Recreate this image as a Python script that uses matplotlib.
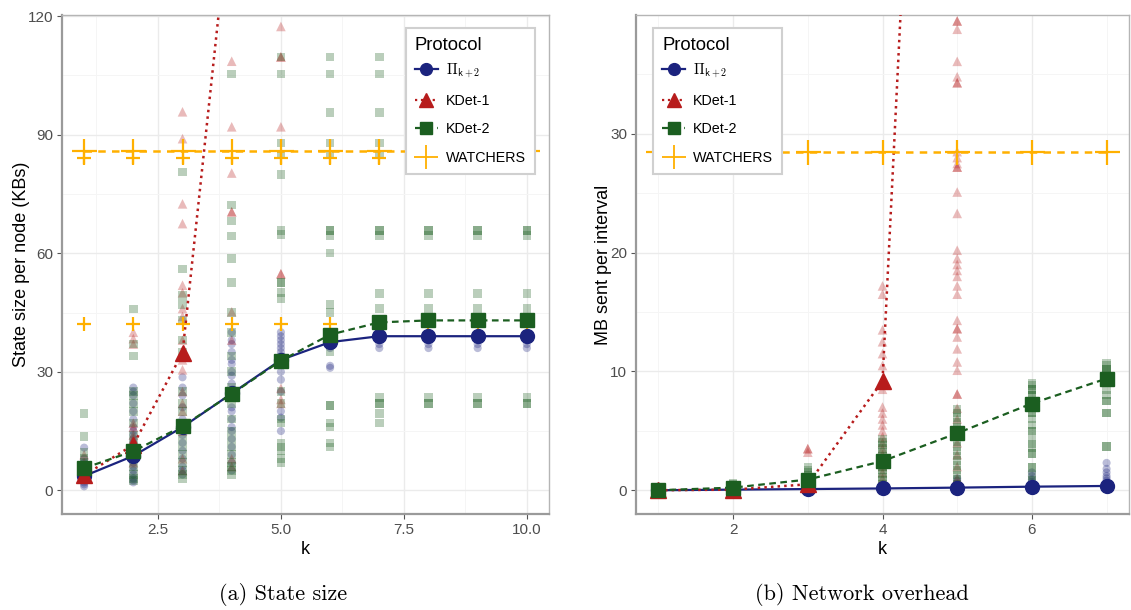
import matplotlib
matplotlib.use('Agg')
import matplotlib.pyplot as plt
from matplotlib.lines import Line2D
import numpy as np

plt.rcParams['font.family'] = ['Liberation Sans', 'DejaVu Sans']
plt.rcParams['mathtext.fontset'] = 'cm'

# colours per protocol
C_PI = '#1B237E'
C_K1 = '#B71C1C'
C_K2 = '#1B5E20'
C_W = '#FFB000'

labels = [r'$\Pi_{\mathsf{k+2}}$', 'KDet-1', 'KDet-2', 'WATCHERS']

# ---------------- (a) state size (KBs) ----------------
k_state = [1, 2, 3, 4, 5, 6, 7, 8, 9, 10]
pi_state_mean = [3.6, 8.7, 16.0, 24.5, 33.0, 37.5, 39.0, 39.0, 39.0, 39.0]
kdet1_state_k = [1, 2, 3, 4, 5]
kdet1_state_mean = [3.8, 11.5, 34.8, 151.5, 300.0]
kdet2_state_mean = [5.6, 9.9, 16.2, 24.4, 32.8, 39.4, 42.5, 43.0, 43.0, 43.0]
watchers_state_mean = [86, 86, 86, 86, 86, 86, 86, 86, 86, 86]

pi_state_pts = [
    [1, 1.5, 2, 3, 4, 5, 6, 7, 8, 10.8],
    [2, 2.5, 3, 4, 5, 6, 7, 8, 9, 10, 11, 12, 13, 14, 15, 16, 18, 20, 22, 24, 25, 26],
    [4, 5, 6, 8, 10, 12, 14, 16, 17, 18, 21, 24, 26, 28.6],
    [5, 7, 9, 11, 13, 15, 16, 18, 20, 21, 24, 25, 27, 29, 30, 32, 33, 35, 37, 38, 40],
    [15, 18.4, 20, 25, 28, 30, 32, 33, 34, 35, 36, 37, 38, 39, 40],
    [31, 31.5, 36, 37],
    [36, 37, 38, 39],
    [36, 37, 38, 39],
    [36, 37, 38, 39],
    [36, 37, 38, 39],
]
kdet1_state_pts = [
    [3, 4, 5, 7, 9],
    [7, 10, 12, 13, 14, 16, 17, 37, 38.4, 40],
    [5, 8, 15, 20, 22, 25, 30.5, 33, 35, 38, 44, 46, 50, 51.9, 67.5, 72.5, 89, 95.8],
    [6, 8, 38, 45.2, 70.5, 70.5, 80.3, 92, 108.6],
    [22, 23, 25.8, 54.8, 54.8, 92, 109.7, 109.7, 117.4],
]
kdet2_state_pts = [
    [2.8, 3.5, 4, 5, 6, 7, 8, 9.6, 13.6, 19.4],
    [2.5, 3, 4, 6, 8, 10, 12, 14, 17, 20, 22, 24, 25, 34, 37, 45.9],
    [3, 4, 5, 7, 9, 11, 13, 16, 20, 22, 25, 35, 38, 43, 47, 49.3, 56, 80.6],
    [4, 5, 6, 7, 9, 11, 13, 15, 18, 22, 26, 30, 34, 40, 45, 52.6, 58.6, 64.4, 68.2, 72.2, 105.4],
    [7, 8, 10, 11, 12, 17, 18, 22, 25, 48.5, 50, 52.6, 52.6, 64.7, 65.7, 80, 85, 87.9, 105.4, 109.7],
    [11, 12, 16, 17, 21.5, 21.5, 35, 39, 45, 47, 60.1, 64.5, 65.7, 65.7, 85, 87.9, 95.6, 105.4, 109.7],
    [17, 19.5, 22, 22, 23.5, 46, 49.8, 64.5, 65.7, 65.7, 85, 87.9, 95.6, 105.4, 109.7],
    [22, 22, 23.5, 46, 49.8, 64.5, 65.7, 65.7],
    [22, 22, 23.5, 46, 49.8, 64.5, 65.7, 65.7],
    [22, 22, 23.5, 46, 49.8, 64.5, 65.7, 65.7],
]
watchers_state_pts = [[84, 42]] * 10

# ---------------- (b) network overhead (MB) ----------------
k_net = [1, 2, 3, 4, 5, 6, 7]
pi_net_mean = [0.0, 0.05, 0.1, 0.15, 0.22, 0.3, 0.36]
kdet1_net_k = [1, 2, 3, 4, 5]
kdet1_net_mean = [0.0, 0.05, 0.5, 9.2, 137.0]
kdet2_net_mean = [0.0, 0.22, 0.9, 2.45, 4.8, 7.3, 9.4]
watchers_net_mean = [28.5, 28.5, 28.5, 28.5, 28.5, 28.5, 28.5]

pi_net_pts = [
    [0.0, 0.0],
    [0.03, 0.05, 0.08],
    [0.05, 0.1, 0.15],
    [0.1, 0.2, 0.3, 0.4, 0.5],
    [0.2, 0.3, 0.4, 0.5, 0.6, 0.8, 1.0],
    [0.2, 0.3, 0.5, 0.7, 0.9, 1.2, 1.5],
    [0.3, 0.4, 0.6, 0.8, 1.0, 1.2, 1.5, 1.8, 2.3],
]
kdet1_net_pts = [
    [0.0, 0.05],
    [0.05, 0.1],
    [0.3, 0.5, 3.2, 3.5, 3.5],
    [0.5, 1, 1.5, 2, 2.5, 3, 3.5, 4, 4.5, 5, 5.5, 6, 6.5, 7, 8.5, 9, 10.5, 11.5, 12.5, 13.5, 16.5, 17.2],
    [0.5, 1, 2, 3, 4, 5, 6, 6.9, 8.1, 8.1, 10.1, 10.8, 11.9, 12.9, 13.6, 13.6, 14.3, 16.5, 17.2, 18, 18.5, 19, 19.5,
     20.2, 23.3, 25.1, 27.2, 27.2, 27.5, 28, 28.5, 34.3, 34.3, 34.8, 36.1, 38.8, 39.5, 39.5],
]
kdet2_net_pts = [
    [0.0, 0.02],
    [0.1, 0.2, 0.3, 0.4, 0.5, 0.6],
    [0.3, 0.5, 0.7, 0.9, 1.1, 1.3, 1.5, 1.7, 1.9],
    [0.5, 0.8, 1.1, 1.4, 1.7, 2.0, 2.3, 2.6, 2.9, 3.2, 3.5, 3.8, 4.0, 4.3],
    [0.5, 0.9, 1.3, 1.7, 2.1, 2.5, 2.9, 3.3, 3.7, 4.1, 4.5, 4.9, 5.3, 5.7, 6.1, 6.5, 6.8],
    [0.8, 1.2, 1.9, 1.9, 3.1, 3.1, 3.6, 3.9, 4.3, 5.0, 5.0, 5.5, 6.0, 6.5, 6.5, 7.0, 7.0, 7.5, 7.5, 8.0, 8.0,
     8.5, 8.5, 8.8, 9.0],
    [3.7, 3.7, 6.5, 6.5, 7.5, 7.5, 8.0, 8.5, 9.5, 9.5, 9.8, 10.0, 10.2, 10.2, 10.5, 10.7],
]


def scatter_group(ax, ks, pts, color, marker, s, alpha=0.3):
    xs, ys = [], []
    for k, vals in zip(ks, pts):
        xs += [k] * len(vals)
        ys += list(vals)
    if marker == '+':
        ax.scatter(xs, ys, marker='+', s=s, color=color, linewidths=1.6, zorder=2)
    else:
        ax.scatter(xs, ys, marker=marker, s=s, color=color, alpha=alpha,
                   edgecolors='none', zorder=2)


def style_axes(ax, xlim, ylim, xmajor, ymajor, yminor, xminor):
    ax.set_xlim(*xlim)
    ax.set_ylim(*ylim)
    ax.set_xticks(xmajor)
    ax.set_yticks(ymajor)
    ax.set_xticks(xminor, minor=True)
    ax.set_yticks(yminor, minor=True)
    ax.grid(True, which='major', color='#EBEBEB', lw=1.0, zorder=0)
    ax.grid(True, which='minor', color='#F5F5F5', lw=0.7, zorder=0)
    ax.set_axisbelow(True)
    ax.tick_params(which='major', length=3.5, width=0.8, color='#555555',
                   labelcolor='#4D4D4D', labelsize=11, pad=3)
    ax.tick_params(which='minor', length=0)
    for side in ['left', 'bottom']:
        ax.spines[side].set_color('#9A9A9A')
        ax.spines[side].set_linewidth(1.6)
    for side in ['top', 'right']:
        ax.spines[side].set_color('#B5B5B5')
        ax.spines[side].set_linewidth(1.0)
    ax.set_xlabel('k', fontsize=13, labelpad=3)


def legend(ax, loc, anchor):
    handles = [
        Line2D([], [], color=C_PI, ls='-', lw=1.6, marker='o', ms=8.5),
        Line2D([], [], color=C_K1, ls=':', lw=1.6, marker='^', ms=10.5),
        Line2D([], [], color=C_K2, ls=(0, (3, 2)), lw=1.6, marker='s', ms=8.5),
        Line2D([], [], color=C_W, ls='none', marker='+', ms=17, mew=1.3),
    ]
    leg = ax.legend(handles, labels, title='Protocol', loc=loc, bbox_to_anchor=anchor,
                    borderaxespad=0, fontsize=10.3, title_fontsize=13.3, frameon=True,
                    fancybox=False, edgecolor='#D0D0D0', framealpha=1, handlelength=1.6,
                    labelspacing=1.0, borderpad=0.65, handletextpad=0.55)
    leg._legend_box.align = 'left'
    # tighter gap between the title and the first entry
    leg._legend_box.sep = 5
    leg.get_frame().set_linewidth(1.5)
    leg.set_zorder(10)


fig = plt.figure(figsize=(11.31, 6.10), dpi=100)
ax1 = fig.add_axes([62 / 1131, 1 - 514 / 610, 487 / 1131, 499 / 610])
ax2 = fig.add_axes([636 / 1131, 1 - 514 / 610, 493 / 1131, 499 / 610])

# panel (a)
scatter_group(ax1, k_state, pi_state_pts, C_PI, 'o', 34)
scatter_group(ax1, kdet1_state_k, kdet1_state_pts, C_K1, '^', 48)
scatter_group(ax1, k_state, kdet2_state_pts, C_K2, 's', 38)
scatter_group(ax1, k_state, watchers_state_pts, C_W, '+', 110)
ax1.plot(k_state, pi_state_mean, color=C_PI, lw=1.6, marker='o', ms=10, zorder=4)
ax1.plot(kdet1_state_k, kdet1_state_mean, color=C_K1, lw=1.8, ls=':', marker='^', ms=12, zorder=4)
ax1.plot(k_state, kdet2_state_mean, color=C_K2, lw=1.6, ls=(0, (3, 2)), marker='s', ms=10, zorder=4)
ax1.plot(k_state, watchers_state_mean, color=C_W, lw=1.8, ls=(0, (3, 2.5)), marker='+', ms=18, mew=1.6, zorder=5)
style_axes(ax1, (0.55, 10.45), (-6, 120.3), [2.5, 5.0, 7.5, 10.0], [0, 30, 60, 90, 120],
           [15, 45, 75, 105], [1.25, 3.75, 6.25, 8.75])
ax1.set_xticklabels(['2.5', '5.0', '7.5', '10.0'])
ax1.set_ylabel('State size per node (KBs)', fontsize=13, labelpad=-1.5)
legend(ax1, 'upper right', (0.971, 0.974))

# panel (b)
scatter_group(ax2, k_net, pi_net_pts, C_PI, 'o', 34)
scatter_group(ax2, kdet1_net_k, kdet1_net_pts, C_K1, '^', 48)
scatter_group(ax2, k_net, kdet2_net_pts, C_K2, 's', 38)
ax2.plot(k_net, pi_net_mean, color=C_PI, lw=1.6, marker='o', ms=10, zorder=4)
ax2.plot(kdet1_net_k, kdet1_net_mean, color=C_K1, lw=1.8, ls=':', marker='^', ms=12, zorder=4)
ax2.plot(k_net, kdet2_net_mean, color=C_K2, lw=1.6, ls=(0, (3, 2)), marker='s', ms=10, zorder=4)
ax2.plot(k_net, watchers_net_mean, color=C_W, lw=1.8, ls=(0, (3, 2.5)), marker='+', ms=18, mew=1.6, zorder=5)
style_axes(ax2, (0.7, 7.3), (-2, 40), [2, 4, 6], [0, 10, 20, 30],
           [5, 15, 25, 35], [1, 3, 5, 7])
ax2.set_ylabel('MB sent per interval', fontsize=13, labelpad=-1.5)
legend(ax2, 'upper left', (0.034, 0.974))

fig.text(283 / 1131, 1 - 595 / 610, '(a) State size', family='cmr10', fontsize=16,
         ha='center', va='center')
fig.text(862 / 1131, 1 - 595 / 610, '(b) Network overhead', family='cmr10', fontsize=16,
         ha='center', va='center')

fig.savefig('out.png', dpi=100)
